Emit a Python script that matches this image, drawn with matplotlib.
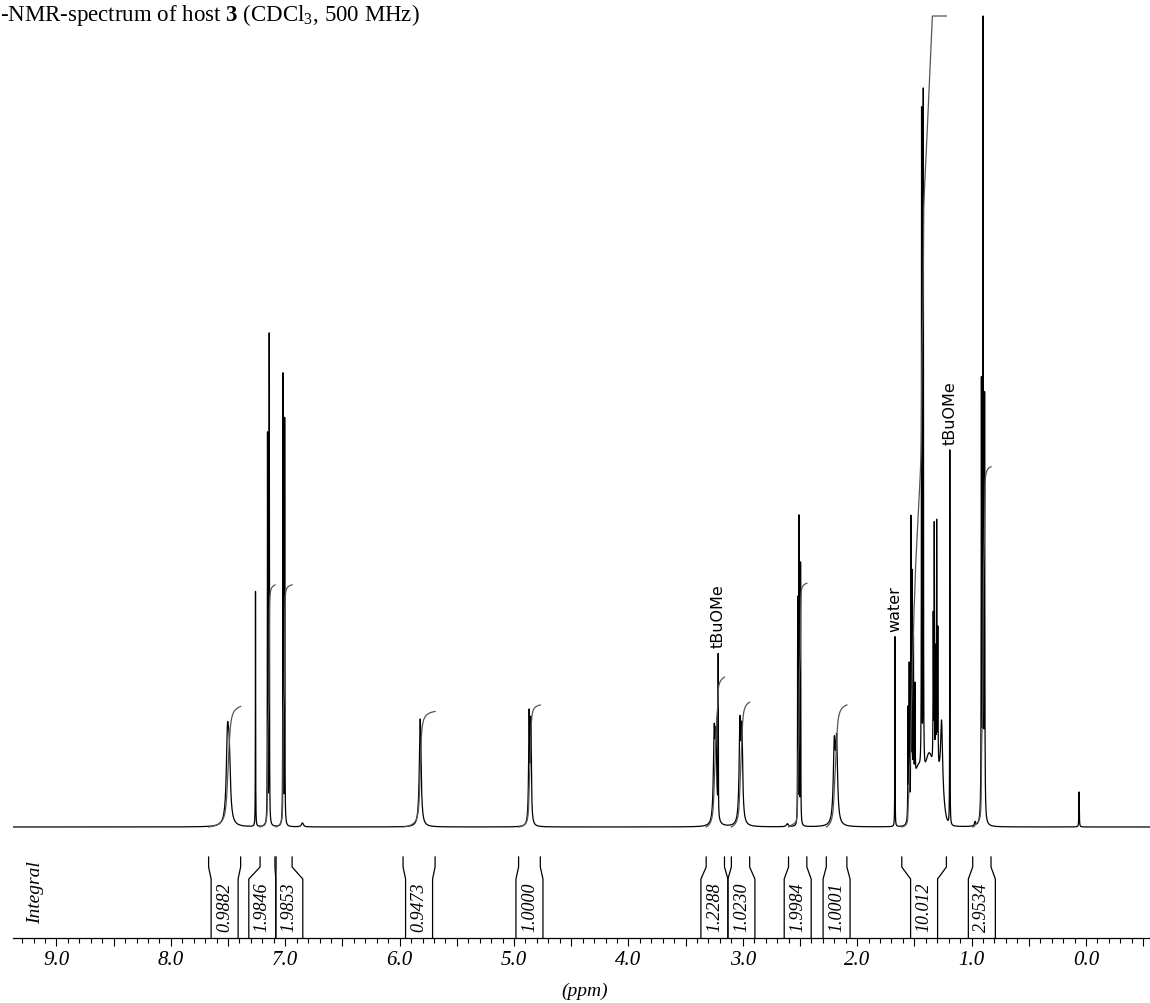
import numpy as np
import matplotlib
matplotlib.use("Agg")
import matplotlib.pyplot as plt
from matplotlib.ticker import MultipleLocator, FuncFormatter

# line list: ppm, height above baseline, half width (ppm)
peak_ppm = [7.505, 7.490, 7.260, 7.155, 7.140, 7.020, 7.005, 6.850,
            5.820, 4.868, 4.853, 3.250, 3.235, 3.215, 3.025, 3.008,
            2.610, 2.520, 2.508, 2.495, 2.200, 2.180,
            1.670, 1.555, 1.545, 1.530, 1.520, 1.508, 1.495,
            1.437, 1.422, 1.335, 1.326, 1.315, 1.305, 1.295, 1.262,
            1.190, 0.970, 0.914, 0.900, 0.886, 0.060]
peak_height = [80, 60, 235, 390, 490, 450, 405, 4,
               108, 108, 100, 85, 80, 158, 95, 88,
               3, 225, 305, 260, 75, 78,
               190, 110, 150, 285, 225, 150, 95,
               660, 680, 150, 240, 120, 245, 140, 70,
               375, 4, 430, 900, 415, 35]
peak_hwhm = [0.012, 0.012, 0.0012, 0.0015, 0.0015, 0.0015, 0.0015, 0.01,
             0.009, 0.005, 0.005, 0.008, 0.008, 0.0012, 0.008, 0.008,
             0.01, 0.0015, 0.0015, 0.0015, 0.010, 0.010,
             0.0012, 0.002, 0.002, 0.0015, 0.002, 0.002, 0.002,
             0.0015, 0.0015, 0.002, 0.0015, 0.002, 0.0015, 0.002, 0.010,
             0.0012, 0.005, 0.002, 0.002, 0.002, 0.002]

# broad envelope under the aliphatic multiplets
hump_ppm = [1.47, 1.37, 1.28]
hump_height = [55, 70, 40]
hump_sigma = [0.035, 0.04, 0.03]

# integral regions (left edge, right edge in ppm) and values
int_left = [7.67, 7.22, 7.08, 5.97, 4.96, 3.32, 3.10, 2.60, 2.27, 1.61, 0.99]
int_right = [7.39, 7.09, 6.94, 5.69, 4.77, 3.16, 2.94, 2.44, 2.09, 1.22, 0.83]
int_label = ["0.9882", "1.9846", "1.9853", "0.9473", "1.0000", "1.2288",
             "1.0230", "1.9984", "1.0001", "10.012", "2.9534"]

# solvent / impurity signals
note_ppm = [3.215, 1.670, 1.190]
note_text = ["tBuOMe", "water", "tBuOMe"]

plt.rcParams['font.family'] = ['Liberation Serif', 'DejaVu Serif']
plt.rcParams['mathtext.fontset'] = 'custom'
plt.rcParams['mathtext.rm'] = 'Liberation Serif'
plt.rcParams['mathtext.bf'] = 'Liberation Serif:bold'

# vertical units are pixels of the 1004 px figure
Y_TOP = 811
Y_AXIS = -111
INT_SCALE = 122

ppm = np.linspace(9.4, -0.6, 40001)
spec = np.zeros_like(ppm)
for c, h, w in zip(peak_ppm, peak_height, peak_hwhm):
    spec += h / (1 + ((ppm - c) / w) ** 2)
for c, h, s in zip(hump_ppm, hump_height, hump_sigma):
    spec += h * np.exp(-0.5 * ((ppm - c) / s) ** 2)

fig = plt.figure(figsize=(11.5, 10.04), dpi=100)
ax = fig.add_axes([13 / 1150, 65 / 1004, 1 - 13 / 1150, (939 - 16) / 1004])
ax.set_xlim(9.38, -0.56)
ax.set_ylim(Y_AXIS, Y_TOP + 1)

ax.plot(ppm, np.minimum(spec, Y_TOP), color='black', lw=0.9)

# integral curves
for lo, hi, lab in zip(int_left, int_right, int_label):
    m = (ppm <= lo) & (ppm >= hi)
    cum = np.cumsum(spec[m])
    cum = cum / cum[-1] * float(lab) * INT_SCALE
    ax.plot(ppm[m], np.minimum(cum, Y_TOP), color='#555555', lw=0.9)

# integral brackets
half = 0.118
centers = [(lo + hi) / 2 for lo, hi in zip(int_left, int_right)]
for i in range(len(centers) - 1):
    if centers[i] - centers[i + 1] < 2 * half:
        mid = (centers[i] + centers[i + 1]) / 2
        centers[i] = mid + half
        centers[i + 1] = mid - half
for lo, hi, c, lab in zip(int_left, int_right, centers, int_label):
    ax.plot([lo, lo, c + half, c + half], [-30, -40, -52, Y_AXIS], color='black', lw=0.9)
    ax.plot([hi, hi, c - half, c - half], [-30, -40, -52, Y_AXIS], color='black', lw=0.9)
    ax.text(c, -104, lab, rotation=90, ha='center', va='bottom',
            fontsize=13, fontstyle='italic')

ax.text(9.18, -65, "Integral", rotation=90, ha='center', va='center',
        fontsize=14, fontstyle='italic')

# annotations above peaks
for p, t in zip(note_ppm, note_text):
    near = np.abs(ppm - p) < 0.003
    top = spec[near].max()
    ax.text(p, top + 6, t, rotation=90, ha='center', va='bottom',
            fontsize=11.5, family='DejaVu Sans')

for s in ['top', 'left', 'right']:
    ax.spines[s].set_visible(False)
ax.spines['bottom'].set_linewidth(0.9)
ax.set_yticks([])
ax.xaxis.set_major_locator(MultipleLocator(0.5))
ax.xaxis.set_minor_locator(MultipleLocator(0.1))
ax.xaxis.set_major_formatter(FuncFormatter(
    lambda v, pos: f"{v:.1f}" if abs(v - round(v)) < 1e-6 else ""))
ax.tick_params(axis='x', which='major', length=5.8, width=0.8, pad=2.5, labelsize=15)
ax.tick_params(axis='x', which='minor', length=3.8, width=0.8)
for lab in ax.get_xticklabels():
    lab.set_fontstyle('italic')

fig.text(585 / 1150, 1 - 991 / 1004, "(ppm)", ha='center', va='center',
         fontsize=14, fontstyle='italic')
fig.text(0, 1 - 21 / 1004, r"-NMR-spectrum of host $\mathbf{3}$ (CDCl$_\mathrm{3}$, 500 MHz)",
         ha='left', va='baseline', fontsize=16.5)

fig.savefig("out.png", dpi=100)
